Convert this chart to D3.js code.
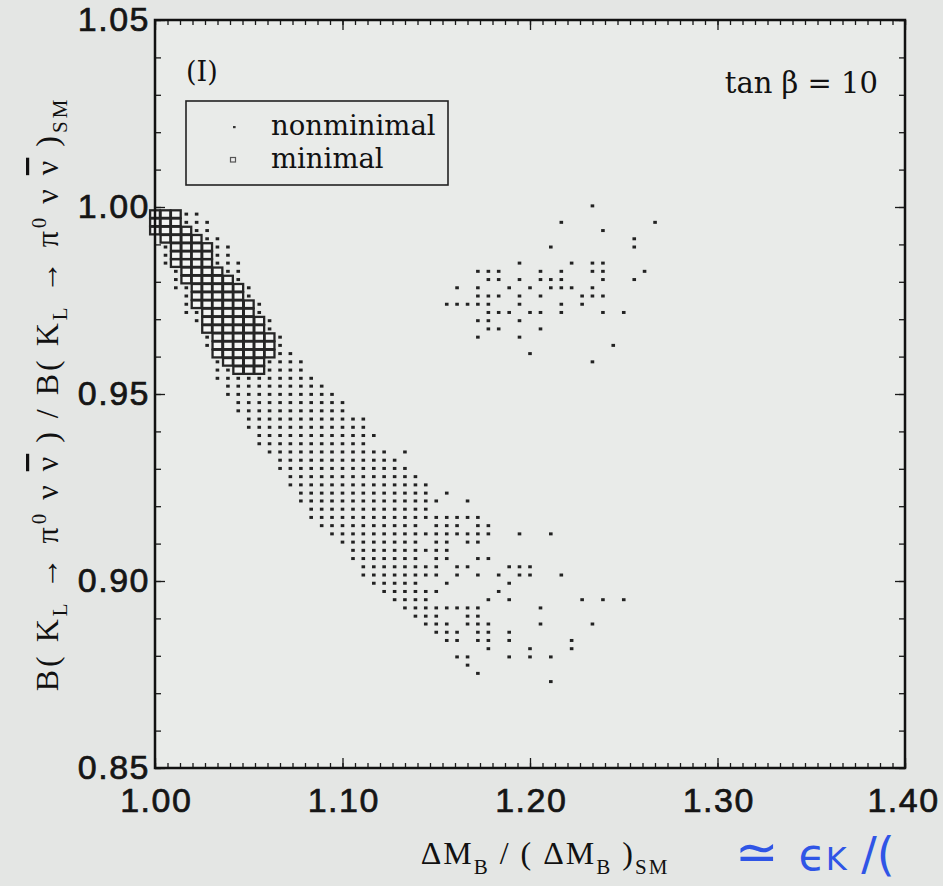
<!DOCTYPE html>
<html>
<head>
<meta charset="utf-8">
<script src="https://cdn.jsdelivr.net/npm/d3@7"></script>
<style>
  html, body { margin: 0; padding: 0; background: #e4e6e4; }
  svg { display: block; }
</style>
</head>
<body>
<div id="chart"></div>
<script>
// grid levels of the parameter scan
const xLevels = [1.0000, 1.0056, 1.0111, 1.0167, 1.0222, 1.0278, 1.0333, 1.0389, 1.0444, 1.0500,
  1.0556, 1.0611, 1.0667, 1.0722, 1.0778, 1.0833, 1.0889, 1.0944, 1.1000, 1.1056,
  1.1111, 1.1167, 1.1222, 1.1278, 1.1333, 1.1389, 1.1444, 1.1500, 1.1556, 1.1611,
  1.1667, 1.1722, 1.1778, 1.1833, 1.1889, 1.1944, 1.2000, 1.2056, 1.2111, 1.2167,
  1.2222, 1.2278, 1.2333, 1.2389, 1.2444, 1.2500, 1.2556, 1.2611, 1.2667];

const yLevels = [1.0003, 0.9981, 0.9959, 0.9937, 0.9915, 0.9893, 0.9871, 0.9850, 0.9828, 0.9806,
  0.9784, 0.9762, 0.9740, 0.9718, 0.9696, 0.9674, 0.9652, 0.9630, 0.9608, 0.9586,
  0.9564, 0.9542, 0.9521, 0.9499, 0.9477, 0.9455, 0.9433, 0.9411, 0.9389, 0.9367,
  0.9345, 0.9323, 0.9301, 0.9279, 0.9257, 0.9235, 0.9214, 0.9192, 0.9170, 0.9148,
  0.9126, 0.9104, 0.9082, 0.9060, 0.9038, 0.9016, 0.8994, 0.8972, 0.8950, 0.8928,
  0.8906, 0.8885, 0.8863, 0.8841, 0.8819, 0.8797, 0.8775, 0.8753, 0.8731];

// one entry per y level: which x levels carry a point
const nonminimalRows = [
  "42", "0-4", "0-5,39,48", "0-5,43", "1-6,46",
  "1-7,38,46", "1-7", "1-8,35,40,42,43", "2-8,31-33,37,39,42,43,47", "2-8,32,33,35,37-39,43,46",
  "2-9,29,31,34,36,38-40,42", "3-9,31-33,35,37,41-43", "3-10,28-32,35,39,41", "3-10,32-34,36,37,39,43,45", "4-11,31,32,35",
  "5-11,32,33,37", "5-12,31,35", "5-12,44", "6-13,36", "6-14,42",
  "6-14", "6-15", "7-16", "7-17", "8-18",
  "8-18", "9-20", "9-20", "10-21", "10-20",
  "11-22,24", "12-23", "12-24", "13-25", "13-26",
  "14-26,28", "14-27,30", "15-26", "15-31", "16-25,27-29,31,32",
  "17-32,35,38", "18-25,27,28,30,31", "19-28", "19-25,27,28,31,32", "20-27,29,30,34-36",
  "20-27,29,31,33,35,36,39", "21-25,28,34", "22-27,33", "23-26,32,34,41,43,45", "24-31,37",
  "25-27,30,31", "26-28,30-32,37,42", "27-29,31,32,34", "28,29,31,32,34,40", "32,36,40",
  "29,30,34,36,38", "30", "31", "38"
];

const minimalRows = [
  "", "0-2", "0-2", "0-3", "1-4",
  "2-5", "2-5", "2-5", "3-6", "3-7",
  "4-8", "4-8", "4-9", "5-9", "5-10",
  "5-10", "6-11", "6-11", "6-11", "7-10",
  "8-10"
];

const xTicks = [1.00, 1.10, 1.20, 1.30, 1.40];
const yTicks = [0.85, 0.90, 0.95, 1.00, 1.05];

function parseRow(s) {
  if (!s) return [];
  return s.split(",").flatMap(part => {
    const [a, b] = part.split("-").map(Number);
    return b === undefined ? [a] : d3.range(a, b + 1);
  });
}

function toPoints(rows) {
  const pts = [];
  rows.forEach((s, r) => {
    parseRow(s).forEach(k => pts.push({ x: xLevels[k], y: yLevels[r] }));
  });
  return pts;
}

const nonminimal = toPoints(nonminimalRows);
const minimal = toPoints(minimalRows);

const width = 943, height = 886;
const plot = { left: 155, right: 905, top: 20, bottom: 768 };

const svg = d3.select("#chart").append("svg")
  .attr("width", width)
  .attr("height", height);

svg.append("rect")
  .attr("width", width).attr("height", height)
  .attr("fill", "#e4e6e4");

svg.append("rect")
  .attr("x", plot.left).attr("y", plot.top)
  .attr("width", plot.right - plot.left).attr("height", plot.bottom - plot.top)
  .attr("fill", "#e9ebe9");

const x = d3.scaleLinear().domain([1.0, 1.4]).range([plot.left, plot.right]);
const y = d3.scaleLinear().domain([0.85, 1.05]).range([plot.bottom, plot.top]);

const xMinor = d3.range(0, 61).map(i => 1.0 + i * 0.1 / 15);
const yMinor = d3.range(0, 21).map(i => 0.85 + i * 0.01);

function cleanAxis(g) {
  g.select(".domain").remove();
  g.selectAll(".tick line").attr("stroke", "#1a1a1a").attr("stroke-width", 1.3);
}

// minor ticks, all four sides, pointing inward
svg.append("g").attr("transform", `translate(0,${plot.bottom})`)
  .call(d3.axisBottom(x).tickValues(xMinor).tickSize(-5).tickFormat("")).call(cleanAxis);
svg.append("g").attr("transform", `translate(0,${plot.top})`)
  .call(d3.axisTop(x).tickValues(xMinor).tickSize(-5).tickFormat("")).call(cleanAxis);
svg.append("g").attr("transform", `translate(${plot.left},0)`)
  .call(d3.axisLeft(y).tickValues(yMinor).tickSize(-6).tickFormat("")).call(cleanAxis);
svg.append("g").attr("transform", `translate(${plot.right},0)`)
  .call(d3.axisRight(y).tickValues(yMinor).tickSize(-6).tickFormat("")).call(cleanAxis);

// major ticks with labels
const xAxis = svg.append("g").attr("transform", `translate(0,${plot.bottom})`)
  .call(d3.axisBottom(x).tickValues(xTicks).tickSize(-10).tickPadding(20).tickFormat(d3.format(".2f")))
  .call(cleanAxis);
svg.append("g").attr("transform", `translate(0,${plot.top})`)
  .call(d3.axisTop(x).tickValues(xTicks).tickSize(-10).tickFormat("")).call(cleanAxis);
const yAxis = svg.append("g").attr("transform", `translate(${plot.left},0)`)
  .call(d3.axisLeft(y).tickValues(yTicks).tickSize(-10).tickPadding(5).tickFormat(d3.format(".2f")))
  .call(cleanAxis);
svg.append("g").attr("transform", `translate(${plot.right},0)`)
  .call(d3.axisRight(y).tickValues(yTicks).tickSize(-10).tickFormat("")).call(cleanAxis);

[xAxis, yAxis].forEach(g => g.selectAll("text")
  .attr("fill", "#151515")
  .attr("stroke", "#151515")
  .attr("stroke-width", 0.7)
  .style("font-family", "'Liberation Sans', Arial, sans-serif")
  .style("font-size", "34px")
  .style("letter-spacing", "1.5px"));
xAxis.selectAll("text").attr("dx", 0.75);
xAxis.selectAll("text").filter(d => d === 1.4).attr("dx", -2);

// points
svg.append("g").selectAll("rect")
  .data(nonminimal)
  .join("rect")
  .attr("x", d => x(d.x) - 1.8)
  .attr("y", d => y(d.y) - 1.5)
  .attr("width", 3.6)
  .attr("height", 3)
  .attr("fill", "#222");

svg.append("g").selectAll("rect")
  .data(minimal)
  .join("rect")
  .attr("x", d => x(d.x) - 4.9)
  .attr("y", d => y(d.y) - 3.8)
  .attr("width", 9.8)
  .attr("height", 7.6)
  .attr("fill", "#f4f5f4")
  .attr("stroke", "#262626")
  .attr("stroke-width", 2.3);

// frame
svg.append("rect")
  .attr("x", plot.left).attr("y", plot.top)
  .attr("width", plot.right - plot.left).attr("height", plot.bottom - plot.top)
  .attr("fill", "none")
  .attr("stroke", "#111")
  .attr("stroke-width", 2.5);

const serif = "'DejaVu Serif', serif";

svg.append("text")
  .attr("x", 186).attr("y", 81)
  .style("font-family", serif).style("font-size", "27px").attr("fill", "#111")
  .text("(I)");

svg.append("text")
  .attr("x", 878).attr("y", 93)
  .attr("text-anchor", "end")
  .style("font-family", serif).style("font-size", "29px").attr("fill", "#111")
  .text("tan β = 10");

// legend
const legend = svg.append("g");
legend.append("rect")
  .attr("x", 186).attr("y", 101).attr("width", 262).attr("height", 84)
  .attr("fill", "none").attr("stroke", "#222").attr("stroke-width", 1.6);
legend.append("rect")
  .attr("x", 233).attr("y", 126).attr("width", 2.6).attr("height", 2.2).attr("fill", "#333");
legend.append("rect")
  .attr("x", 230.5).attr("y", 157.5).attr("width", 5).attr("height", 4.5)
  .attr("fill", "#eee").attr("stroke", "#555").attr("stroke-width", 1.2);
legend.append("text").attr("x", 271).attr("y", 135)
  .style("font-family", serif).style("font-size", "27.5px").attr("fill", "#111")
  .text("nonminimal");
legend.append("text").attr("x", 271).attr("y", 168)
  .style("font-family", serif).style("font-size", "27.5px").attr("fill", "#111")
  .text("minimal");

// axis titles
const tnr = "'Liberation Serif', 'Times New Roman', serif";
const xt = svg.append("text")
  .attr("x", 545).attr("y", 864)
  .attr("text-anchor", "middle")
  .style("font-family", tnr).style("font-size", "32px")
  .style("letter-spacing", "2px").attr("fill", "#111");
xt.append("tspan").text("ΔM");
xt.append("tspan").attr("dy", 10).style("font-size", "21px").text("B");
xt.append("tspan").attr("dy", -10).text(" / ( ΔM");
xt.append("tspan").attr("dy", 10).style("font-size", "21px").text("B");
xt.append("tspan").attr("dy", -10).text(" )");
xt.append("tspan").attr("dy", 10).style("font-size", "21px").text("SM");

const yt = svg.append("text")
  .attr("transform", "translate(58,394) rotate(-90)")
  .attr("text-anchor", "middle")
  .style("font-family", tnr).style("font-size", "32px")
  .style("letter-spacing", "3px").attr("fill", "#111");
const half = () => {
  yt.append("tspan").text("K");
  yt.append("tspan").attr("dy", 9).style("font-size", "21px").text("L");
  yt.append("tspan").attr("dy", -9).text(" → π");
  yt.append("tspan").attr("dy", -12).style("font-size", "21px").text("0");
  yt.append("tspan").attr("dy", 12).text(" ν ");
  yt.append("tspan").style("text-decoration", "overline").text("ν");
  yt.append("tspan").text(" )");
};
yt.append("tspan").text("B( ");
half();
yt.append("tspan").text(" / B( ");
half();
yt.append("tspan").attr("dy", 9).style("font-size", "21px").text("SM");

// handwritten note at the bottom right
const note = svg.append("text")
  .attr("x", 735).attr("y", 870)
  .attr("fill", "#2f55e6")
  .style("font-family", "'DejaVu Sans', sans-serif");
note.append("tspan").style("font-size", "52px").text("≃");
note.append("tspan").attr("dx", 20).style("font-size", "44px").text("ϵ");
note.append("tspan").style("font-size", "32px").text("K");
note.append("tspan").style("font-size", "46px").text(" /(");
</script>
</body>
</html>
